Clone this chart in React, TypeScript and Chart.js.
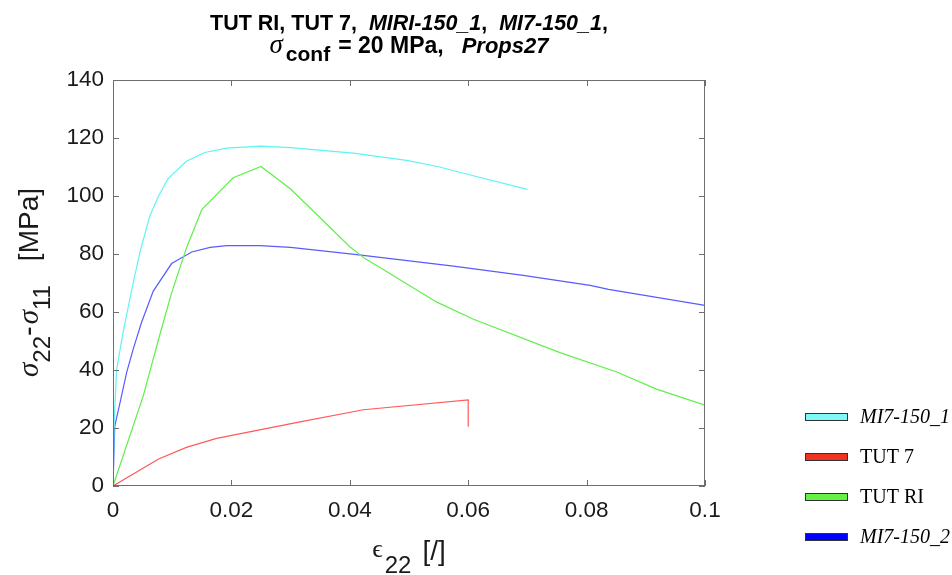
import React, { useEffect, useRef } from "react";
import { Chart, registerables } from "chart.js";

Chart.register(...registerables);

// ---- data ----
const cyanX = [0, 0.0002, 0.0006, 0.0017, 0.0034, 0.0046, 0.0062, 0.0077, 0.0093, 0.0124, 0.0155, 0.0192, 0.025, 0.03, 0.0406, 0.0496, 0.0552, 0.0597, 0.07];
const cyanY = [0, 22, 40, 53, 70, 81, 93, 100, 106, 112, 115, 116.5, 117.2, 116.7, 114.8, 112.3, 110, 107.6, 102.3];

const redX = [0, 0.0077, 0.0124, 0.0175, 0.0316, 0.0423, 0.06, 0.06];
const redY = [0, 9.3, 13.3, 16.4, 22.1, 26.3, 29.7, 20.4];

const greenX = [0, 0.0051, 0.0077, 0.0099, 0.0124, 0.015, 0.0203, 0.025, 0.03, 0.04, 0.0425, 0.0462, 0.0547, 0.0609, 0.0755, 0.0851, 0.0918, 0.1];
const greenY = [0, 31, 50.6, 66.6, 82, 95.3, 106.3, 110.2, 102.4, 82.5, 78.5, 74, 63.4, 57.5, 46, 39.3, 33.4, 27.9];

const blueX = [0, 0.0003, 0.0012, 0.0023, 0.0034, 0.0048, 0.0068, 0.0099, 0.0133, 0.0164, 0.0192, 0.0248, 0.03, 0.0412, 0.0575, 0.0693, 0.0806, 0.0837, 0.1];
const blueY = [0, 20.7, 28.8, 39.1, 47.1, 56.3, 67.2, 76.7, 80.7, 82.3, 82.9, 82.9, 82.3, 79.8, 75.8, 72.6, 69.2, 67.8, 62.3];

const seriesNames = ["MI7-150_1", "TUT 7", "TUT RI", "MI7-150_2"];
const seriesItalic = [true, false, false, true];
const lineColors = ["#5ef4f4", "#ff5a5a", "#5ef048", "#5a5aff"];
const patchColors = ["#7ff8f8", "#ee3322", "#66f044", "#0000ff"];

const xTicks = [0, 0.02, 0.04, 0.06, 0.08, 0.1];
const xTickLabels = ["0", "0.02", "0.04", "0.06", "0.08", "0.1"];
const yTicks = [0, 20, 40, 60, 80, 100, 120, 140];

const SANS = "'Liberation Sans', Arial, Helvetica, sans-serif";
const SERIF = "'Liberation Serif', 'Times New Roman', serif";

type Run = { t: string; f: string; dy?: number; gap?: number };

function runsWidth(ctx: CanvasRenderingContext2D, runs: Run[]) {
  let w = 0;
  for (const r of runs) {
    ctx.font = r.f;
    w += ctx.measureText(r.t).width + (r.gap || 0);
  }
  return w;
}
function drawRuns(ctx: CanvasRenderingContext2D, runs: Run[], cx: number, y: number) {
  let x = cx - runsWidth(ctx, runs) / 2;
  ctx.textAlign = "left";
  ctx.textBaseline = "alphabetic";
  for (const r of runs) {
    ctx.font = r.f;
    x += r.gap || 0;
    ctx.fillText(r.t, x, y + (r.dy || 0));
    x += ctx.measureText(r.t).width;
  }
}

const decorPlugin = {
  id: "decor",
  afterDraw(chart: any) {
    const ctx: CanvasRenderingContext2D = chart.ctx;
    const { left, right, top, bottom } = chart.chartArea;
    const xs = chart.scales.x;
    const ys = chart.scales.y;
    ctx.save();
    // box
    ctx.strokeStyle = "#6e6e6e";
    ctx.lineWidth = 1;
    ctx.strokeRect(left + 0.5, top + 0.5, right - left - 1, bottom - top - 1);
    // inward ticks
    ctx.beginPath();
    for (const v of xTicks) {
      const px = Math.round(xs.getPixelForValue(v)) + 0.5;
      ctx.moveTo(px, bottom);
      ctx.lineTo(px, bottom - 6);
      ctx.moveTo(px, top);
      ctx.lineTo(px, top + 6);
    }
    for (const v of yTicks) {
      const py = Math.round(ys.getPixelForValue(v)) + 0.5;
      ctx.moveTo(left, py);
      ctx.lineTo(left + 6, py);
      ctx.moveTo(right, py);
      ctx.lineTo(right - 6, py);
    }
    ctx.stroke();

    ctx.fillStyle = "#000";
    const cx = (left + right) / 2;
    // title
    const B = `bold 21.5px ${SANS}`;
    const BI = `italic bold 21.5px ${SANS}`;
    drawRuns(ctx, [
      { t: "TUT RI, TUT 7,  ", f: B },
      { t: "MIRI-150_1", f: BI },
      { t: ",  ", f: B },
      { t: "MI7-150_1", f: BI },
      { t: ",", f: B },
    ], cx, 30);
    drawRuns(ctx, [
      { t: "σ", f: `italic 27px ${SERIF}` },
      { t: "conf", f: `bold 21px ${SANS}`, dy: 8, gap: 3 },
      { t: "= 20 MPa,", f: `bold 23px ${SANS}`, gap: 8 },
      { t: "Props27", f: `italic bold 22px ${SANS}`, gap: 18 },
    ], cx, 53);

    // x label
    ctx.fillStyle = "#1a1a1a";
    drawRuns(ctx, [
      { t: "ϵ", f: `26px ${SERIF}`, dy: -3 },
      { t: "22", f: `24px ${SANS}`, dy: 13, gap: 2 },
      { t: "[/]", f: `28px ${SANS}`, gap: 11 },
    ], cx, 560);

    // y label
    ctx.save();
    ctx.translate(38, 282.5);
    ctx.rotate(-Math.PI / 2);
    drawRuns(ctx, [
      { t: "σ", f: `italic 29px ${SERIF}` },
      { t: "22", f: `24px ${SANS}`, dy: 12 },
      { t: "-", f: `29px ${SANS}`, gap: 0 },
      { t: "σ", f: `italic 29px ${SERIF}`, gap: 2 },
      { t: "11", f: `24px ${SANS}`, dy: 12 },
      { t: "[MPa]", f: `28px ${SANS}`, gap: 24 },
    ], 0, 0);
    ctx.restore();

    // legend
    const ly = [417, 457, 497, 537];
    for (let i = 0; i < 4; i++) {
      ctx.fillStyle = patchColors[i];
      ctx.fillRect(805, ly[i] - 4, 43, 8);
      ctx.strokeStyle = "#333";
      ctx.lineWidth = 1;
      ctx.strokeRect(805.5, ly[i] - 3.5, 42, 7);
      ctx.fillStyle = "#000";
      ctx.font = `${seriesItalic[i] ? "italic " : ""}20px ${SERIF}`;
      ctx.textAlign = "left";
      ctx.textBaseline = "middle";
      ctx.fillText(seriesNames[i], 860, ly[i] + 1);
    }
    ctx.restore();
  },
};

function pts(xs: number[], ys: number[]) {
  return xs.map((x, i) => ({ x, y: ys[i] }));
}

export default function App() {
  const ref = useRef<HTMLCanvasElement | null>(null);
  useEffect(() => {
    if (!ref.current) return;
    const mk = (i: number, xs: number[], ys: number[]) => ({
      label: seriesNames[i],
      data: pts(xs, ys),
      borderColor: lineColors[i],
      backgroundColor: lineColors[i],
      borderWidth: 1.2,
      pointRadius: 0,
      showLine: true,
      tension: 0,
      fill: false,
    });
    const chart = new Chart(ref.current, {
      type: "scatter",
      data: {
        datasets: [
          mk(0, cyanX, cyanY),
          mk(1, redX, redY),
          mk(2, greenX, greenY),
          mk(3, blueX, blueY),
        ],
      },
      options: {
        animation: false,
        responsive: false,
        maintainAspectRatio: false,
        devicePixelRatio: 1,
        layout: { padding: { left: 0, right: 247, top: 80, bottom: 0 } },
        plugins: {
          legend: { display: false },
          title: { display: false },
          tooltip: { enabled: false },
        },
        scales: {
          x: {
            type: "linear",
            min: 0,
            max: 0.1,
            afterFit: (s: any) => { s.height = 89; },
            afterBuildTicks: (s: any) => { s.ticks = xTicks.map((v) => ({ value: v })); },
            grid: { display: false, drawTicks: false },
            border: { display: false },
            ticks: {
              color: "#1a1a1a",
              font: { family: SANS, size: 22.5 },
              padding: 11,
              maxRotation: 0,
              callback: (v: any) => {
                const i = xTicks.findIndex((t) => Math.abs(t - v) < 1e-9);
                return i >= 0 ? xTickLabels[i] : "";
              },
            },
          },
          y: {
            type: "linear",
            min: 0,
            max: 140,
            afterFit: (s: any) => { s.width = 113; },
            afterBuildTicks: (s: any) => { s.ticks = yTicks.map((v) => ({ value: v })); },
            grid: { display: false, drawTicks: false },
            border: { display: false },
            ticks: {
              color: "#1a1a1a",
              font: { family: SANS, size: 22.5 },
              padding: 9,
              callback: (v: any) => String(v),
            },
          },
        },
      },
      plugins: [decorPlugin],
    } as any);
    return () => chart.destroy();
  }, []);
  return (
    <div style={{ position: "fixed", left: 0, top: 0, width: 952, height: 575, background: "#fff" }}>
      <canvas ref={ref} width={952} height={575} style={{ width: 952, height: 575, display: "block" }} />
    </div>
  );
}
